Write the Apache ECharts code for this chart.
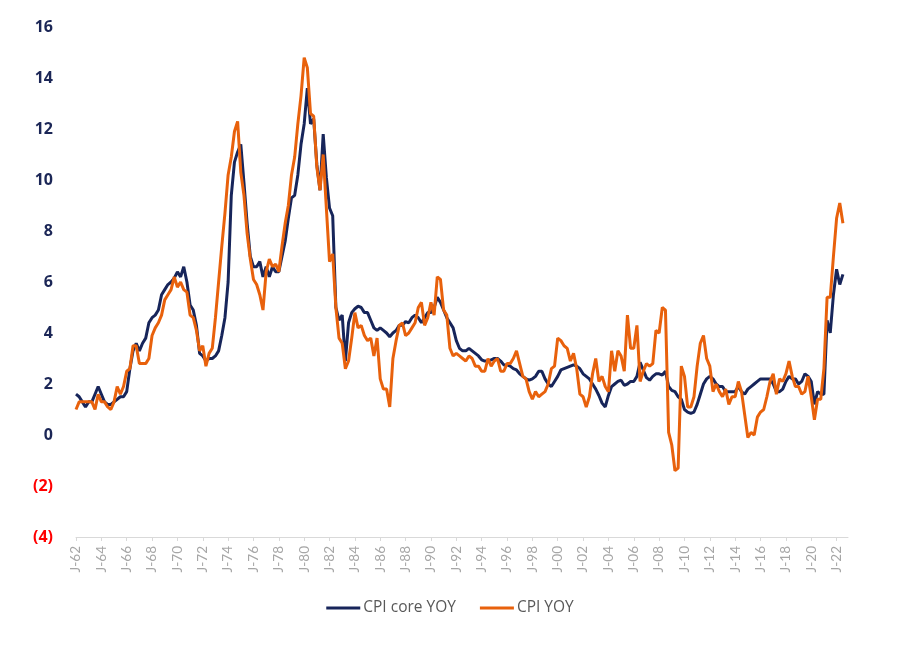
<!DOCTYPE html>
<html><head><meta charset="utf-8">
<script src="https://cdn.jsdelivr.net/npm/echarts@6/dist/echarts.min.js"></script>
<style>html,body{margin:0;padding:0;background:#fff}#c{width:900px;height:652px}</style>
</head><body><div id="c"></div>
<script>
// Quarterly readings (end of quarter), first point Q1 1962, last point Aug 2022
const startYear = 1962;
const seriesNames = ['CPI core YOY', 'CPI YOY'];

const cpiCore = [
  1.6, 1.5, 1.3, 1.1,   1.3, 1.3, 1.6, 1.9,   1.6, 1.3, 1.2, 1.2,   1.3, 1.4, 1.5, 1.5,
  1.7, 2.6, 3.3, 3.6,   3.3, 3.6, 3.8, 4.4,   4.6, 4.7, 4.9, 5.5,   5.7, 5.9, 6.0, 6.15,
  6.4, 6.2, 6.6, 6.0,   5.1, 4.9, 4.3, 3.2,   3.1, 2.9, 3.0, 3.0,   3.1, 3.3, 3.9, 4.6,
  6.0, 9.4, 10.7, 11.1, 11.4, 9.9, 8.3, 7.0,  6.6, 6.6, 6.8, 6.2,   6.6, 6.2, 6.6, 6.4,
  6.4, 7.0, 7.6, 8.5,   9.3, 9.4, 10.2, 11.4, 12.2, 13.6, 12.2, 12.4, 10.6, 9.6, 11.8, 10.1,
  8.9, 8.6, 5.0, 4.5,   4.7, 2.9, 4.4, 4.8,   4.95, 5.05, 5.0, 4.8, 4.8, 4.5, 4.2, 4.1,
  4.2, 4.1, 4.0, 3.85,  4.0, 4.1, 4.3, 4.3,   4.45, 4.4, 4.6, 4.7,  4.6, 4.4, 4.6, 4.8,
  4.8, 5.0, 5.4, 5.2,   4.9, 4.6, 4.4, 4.2,   3.7, 3.4, 3.3, 3.3,   3.4, 3.3, 3.2, 3.1,
  2.95, 2.9, 2.9, 2.95, 3.0, 3.0, 2.9, 2.75,  2.75, 2.7, 2.6, 2.55, 2.4, 2.3, 2.2, 2.15,
  2.2, 2.3, 2.5, 2.5,   2.2, 2.0, 1.9, 2.1,   2.3, 2.55, 2.6, 2.65, 2.7, 2.75, 2.7, 2.6,
  2.4, 2.3, 2.2, 2.0,   1.8, 1.55, 1.25, 1.1, 1.55, 1.9, 2.0, 2.1,  2.15, 1.95, 2.0, 2.1,
  2.1, 2.3, 2.85, 2.55, 2.25, 2.15, 2.3, 2.4, 2.4, 2.35, 2.5, 1.9,  1.75, 1.7, 1.5, 1.4,
  1.0, 0.9, 0.85, 0.9,  1.2, 1.6, 2.0, 2.2,   2.3, 2.2, 2.0, 1.9,   1.9, 1.7, 1.7, 1.7,
  1.7, 1.9, 1.7, 1.6,   1.8, 1.9, 2.0, 2.1,   2.2, 2.2, 2.2, 2.2,   2.0, 1.7, 1.7, 1.8,
  2.1, 2.3, 2.2, 2.2,   2.0, 2.1, 2.4, 2.3,   2.1, 1.2, 1.7, 1.6,   1.6, 4.5, 4.0, 5.5,
  6.5, 5.9, 6.3
];

const cpiAll = [
  1.0, 1.3, 1.3, 1.3,   1.3, 1.3, 1.0, 1.6,   1.3, 1.3, 1.1, 1.0,   1.3, 1.9, 1.6, 1.9,
  2.5, 2.6, 3.5, 3.5,   2.8, 2.8, 2.8, 3.0,   3.9, 4.2, 4.4, 4.7,   5.3, 5.5, 5.7, 6.2,
  5.8, 6.0, 5.7, 5.6,   4.7, 4.6, 4.1, 3.3,   3.5, 2.7, 3.2, 3.4,   4.6, 6.0, 7.4, 8.7,
  10.2, 10.9, 11.9, 12.3, 10.3, 9.4, 7.9, 6.9, 6.1, 5.9, 5.5, 4.9, 6.4, 6.9, 6.6, 6.7,
  6.4, 7.4, 8.3, 9.0,   10.2, 10.9, 12.2, 13.3, 14.8, 14.4, 12.6, 12.5, 10.5, 9.6, 11.0, 8.9,
  6.8, 7.1, 5.0, 3.8,   3.6, 2.6, 2.9, 3.8,   4.8, 4.2, 4.3, 3.9,   3.7, 3.8, 3.1, 3.8,
  2.2, 1.8, 1.8, 1.1,   3.0, 3.7, 4.3, 4.4,   3.9, 4.0, 4.2, 4.4,   5.0, 5.2, 4.3, 4.6,
  5.2, 4.7, 6.2, 6.1,   4.9, 4.7, 3.4, 3.1,   3.2, 3.1, 3.0, 2.9,   3.1, 3.0, 2.7, 2.7,
  2.5, 2.5, 3.0, 2.7,   2.9, 3.0, 2.5, 2.5,   2.8, 2.8, 3.0, 3.3,   2.8, 2.3, 2.2, 1.7,
  1.4, 1.7, 1.5, 1.6,   1.7, 2.0, 2.6, 2.7,   3.8, 3.7, 3.5, 3.4,   2.9, 3.2, 2.6, 1.6,
  1.5, 1.1, 1.5, 2.4,   3.0, 2.1, 2.3, 1.9,   1.7, 3.3, 2.5, 3.3,   3.1, 2.5, 4.7, 3.4,
  3.4, 4.3, 2.1, 2.5,   2.8, 2.7, 2.8, 4.1,   4.0, 5.0, 4.9, 0.1,   -0.4, -1.4, -1.3, 2.7,
  2.3, 1.1, 1.1, 1.5,   2.7, 3.6, 3.9, 3.0,   2.7, 1.7, 2.0, 1.7,   1.5, 1.8, 1.2, 1.5,
  1.5, 2.1, 1.7, 0.8,   -0.1, 0.1, 0.0, 0.7,  0.9, 1.0, 1.5, 2.1,   2.4, 1.6, 2.2, 2.1,
  2.4, 2.9, 2.3, 1.9,   1.9, 1.6, 1.7, 2.3,   1.5, 0.6, 1.4, 1.4,   2.6, 5.4, 5.4, 7.0,
  8.5, 9.1, 8.3
];

const yTickValues = [-4, -2, 0, 2, 4, 6, 8, 10, 12, 14, 16];
const yTickLabels = ['(4)', '(2)', '0', '2', '4', '6', '8', '10', '12', '14', '16'];
const xTickPrefix = 'J-';

const toPoints = arr => arr.map((v, i) => [startYear + i / 4, v]);
const fontFam = '"Open Sans", "DejaVu Sans", sans-serif';

const chart = echarts.init(document.getElementById('c'), null, {renderer: 'canvas'});
chart.setOption({
  animation: false,
  backgroundColor: '#ffffff',
  grid: {left: 76, right: 52, top: 27, bottom: 115},
  legend: {
    data: seriesNames,
    bottom: 31,
    left: 'center',
    icon: 'rect',
    itemWidth: 34,
    itemHeight: 3,
    itemGap: 24,
    textStyle: {color: '#595959', fontSize: 15.5, fontFamily: fontFam, padding: [0, 0, 0, -2]}
  },
  xAxis: {
    type: 'value',
    min: startYear,
    max: 2022.9,
    interval: 2,
    splitLine: {show: false},
    axisLine: {onZero: false, lineStyle: {color: '#d9d9d9', width: 1}},
    axisTick: {length: 4, lineStyle: {color: '#d9d9d9'}},
    axisLabel: {
      rotate: 90,
      margin: 9,
      color: '#a6a6a6',
      fontSize: 13.5,
      fontFamily: 'Lato, "Open Sans", sans-serif',
      showMaxLabel: false,
      formatter: v => {
        const r = Math.round(v);
        if (Math.abs(v - r) > 1e-6 || (r - startYear) % 2 !== 0) return '';
        return xTickPrefix + String(r).slice(2);
      }
    }
  },
  yAxis: {
    type: 'value',
    min: -4,
    max: 16,
    interval: 2,
    splitLine: {show: false},
    axisLine: {show: false},
    axisTick: {show: false},
    axisLabel: {
      margin: 23,
      formatter: v => {
        const idx = yTickValues.indexOf(Math.round(v));
        const t = idx >= 0 ? yTickLabels[idx] : String(v);
        return v < 0 ? '{n|' + t + '}' : '{p|' + t + '}';
      },
      rich: {
        n: {color: '#ff0000', fontWeight: 'bold', fontSize: 16, fontFamily: fontFam},
        p: {color: '#1b2656', fontWeight: 'bold', fontSize: 16, fontFamily: fontFam}
      }
    }
  },
  series: [
    {
      name: seriesNames[0], type: 'line', data: toPoints(cpiCore),
      symbol: 'none', smooth: false,
      lineStyle: {color: '#17255a', width: 3}, itemStyle: {color: '#17255a'}, z: 2
    },
    {
      name: seriesNames[1], type: 'line', data: toPoints(cpiAll),
      symbol: 'none', smooth: false,
      lineStyle: {color: '#e8610c', width: 3}, itemStyle: {color: '#e8610c'}, z: 3
    }
  ]
});
</script>
</body></html>
